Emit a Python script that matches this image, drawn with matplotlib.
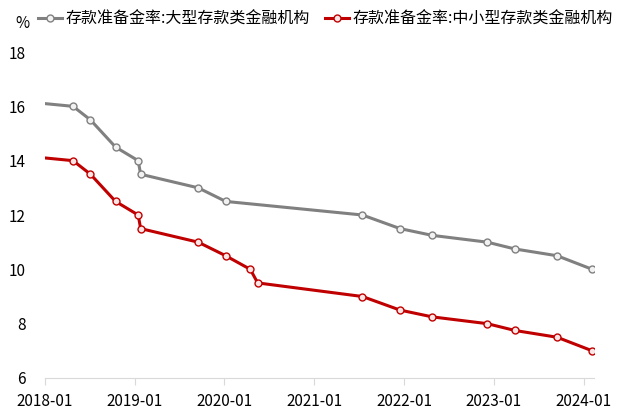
import pandas as pd
import matplotlib
matplotlib.use("Agg")
import matplotlib.pyplot as plt
import matplotlib.dates as mdates

plt.rcParams['font.family'] = ['Noto Sans CJK SC', 'DejaVu Sans']

large_dates = ["2018-01-01", "2018-04-25", "2018-07-05", "2018-10-15", "2019-01-15",
               "2019-01-25", "2019-09-16", "2020-01-06", "2021-07-15", "2021-12-15",
               "2022-04-25", "2022-12-05", "2023-03-27", "2023-09-15", "2024-02-05"]
large_vals = [16.1, 16.0, 15.5, 14.5, 14.0, 13.5, 13.0, 12.5, 12.0, 11.5,
              11.25, 11.0, 10.75, 10.5, 10.0]

small_dates = ["2018-01-01", "2018-04-25", "2018-07-05", "2018-10-15", "2019-01-15",
               "2019-01-25", "2019-09-16", "2020-01-06", "2020-04-15", "2020-05-15",
               "2021-07-15", "2021-12-15", "2022-04-25", "2022-12-05", "2023-03-27",
               "2023-09-15", "2024-02-05"]
small_vals = [14.1, 14.0, 13.5, 12.5, 12.0, 11.5, 11.0, 10.5, 10.0, 9.5,
              9.0, 8.5, 8.25, 8.0, 7.75, 7.5, 7.0]

large_label = "存款准备金率:大型存款类金融机构"
small_label = "存款准备金率:中小型存款类金融机构"
x_ticks = ["2018-01", "2019-01", "2020-01", "2021-01", "2022-01", "2023-01", "2024-01"]


def create_plot():
    fig = plt.figure(figsize=(6.18, 4.17), dpi=100)
    ax = fig.add_axes([45 / 618, 1 - 378 / 417, (594 - 45) / 618, (378 - 52) / 417])

    ld = pd.to_datetime(large_dates)
    sd = pd.to_datetime(small_dates)

    ax.plot(ld, large_vals, color='#808080', lw=2.2, marker='o', ms=5,
            mfc='#f2f2f2', mec='#808080', mew=1, markevery=list(range(1, len(ld))),
            label=large_label)
    ax.plot(sd, small_vals, color='#c00000', lw=2.2, marker='o', ms=5,
            mfc='#fbe5e5', mec='#c00000', mew=1, markevery=list(range(1, len(sd))),
            label=small_label)

    ax.set_ylim(6, 18)
    ax.set_yticks(range(6, 19, 2))
    ax.set_xlim(pd.Timestamp("2018-01-01"), pd.Timestamp("2024-02-12"))
    ax.set_xticks(pd.to_datetime([t + "-01" for t in x_ticks]))
    ax.xaxis.set_major_formatter(mdates.DateFormatter("%Y-%m"))

    for s in ['top', 'right', 'left']:
        ax.spines[s].set_visible(False)
    ax.spines['bottom'].set_color('#d9d9d9')
    ax.tick_params(axis='x', colors='#d9d9d9', labelcolor='black', length=5,
                   labelsize=11, pad=6)
    ax.tick_params(axis='y', length=0, labelsize=11, pad=14)

    fig.text(15 / 618, 1 - 23 / 417, "%", fontsize=11, va='center')
    ax.legend(loc='lower left', bbox_to_anchor=(-0.013, 1.075), ncol=2, frameon=False,
              fontsize=11.5, handlelength=1.5, handletextpad=0.25, columnspacing=0.9,
              borderaxespad=0, borderpad=0)

    fig.savefig("out.png", dpi=100)


create_plot()
